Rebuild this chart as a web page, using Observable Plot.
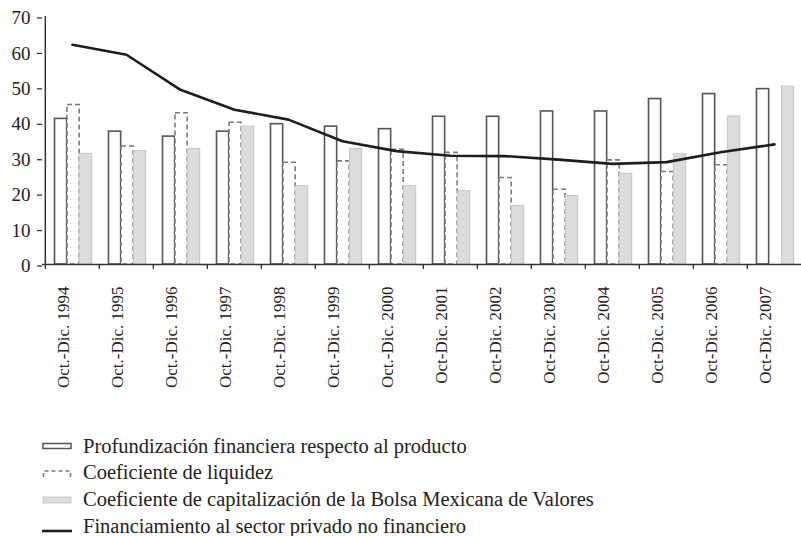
<!DOCTYPE html>
<html><head><meta charset="utf-8">
<script src="https://cdn.jsdelivr.net/npm/d3@7"></script>
<script src="https://cdn.jsdelivr.net/npm/@observablehq/plot@0.6"></script>
<style>
html,body{margin:0;padding:0;background:#fff;}
body{font-family:'Liberation Serif','DejaVu Serif',serif;color:#222;width:801px;height:536px;overflow:hidden;}
#chart svg{display:block;}
#chart svg text{font-family:'Liberation Serif','DejaVu Serif',serif;}
#legend{margin-top:7.6px;font-size:20.5px;}
.row{height:26.7px;line-height:26.7px;display:flex;align-items:center;white-space:nowrap;}
.row svg{margin-left:42px;margin-right:11px;flex:none;}
</style></head><body>
<div id="chart"></div>
<div id="legend"></div>
<script>
const categories = ["Oct.-Dic. 1994","Oct.-Dic. 1995","Oct.-Dic. 1996","Oct.-Dic. 1997","Oct.-Dic. 1998","Oct.-Dic. 1999","Oct.-Dic. 2000","Oct-Dic. 2001","Oct-Dic. 2002","Oct-Dic. 2003","Oct-Dic. 2004","Oct-Dic. 2005","Oct-Dic. 2006","Oct-Dic. 2007"];
const profundizacion = [41.1,37.5,36.1,37.5,39.6,38.9,38.2,41.7,41.7,43.2,43.2,46.7,48.1,49.5];
const liquidez = [45.0,33.3,42.7,40.0,28.7,29.1,32.4,31.5,24.4,21.1,29.4,26.1,28.0,null];
const capitalizacion = [31.2,32.0,32.6,38.9,22.1,32.6,22.1,20.7,16.5,19.3,25.6,31.1,41.8,50.2];
const financiamiento = [62.0,59.2,49.3,43.7,40.9,34.8,32.0,30.7,30.6,29.6,28.4,28.9,31.7,33.9];
const yTicks = [0,10,20,30,40,50,60,70];
const seriesNames = ["Profundización financiera respecto al producto","Coeficiente de liquidez","Coeficiente de capitalización de la Bolsa Mexicana de Valores","Financiamiento al sector privado no financiero"];

const rows = categories.map((c,i)=>({cat:c, prof:profundizacion[i], liq:liquidez[i], cap:capitalizacion[i], fin:financiamiento[i]}));
const W = 801, mL = 42, mR = -2;
const step = (W - mR - mL)/categories.length;
const bw = 12.5, off = 9.5;
const ins = k => ({insetLeft: off + k*bw, insetRight: step - off - (k+1)*bw});

const chart = Plot.plot({
  width: W, height: 425,
  marginLeft: mL, marginRight: mR, marginTop: 16, marginBottom: 161,
  x: {domain: categories, padding: 0, label: null},
  y: {domain: [0,70], label: null},
  style: {fontSize: "19px", color: "#222", background: "white", overflow: "visible"},
  marks: [
    Plot.barY(rows, {x:"cat", y:"prof", fill:"white", stroke:"#555", strokeWidth:1.6, ...ins(0)}),
    Plot.barY(rows.filter(d=>d.liq!=null), {x:"cat", y:"liq", fill:"white", stroke:"#7a7a7a", strokeWidth:1.6, strokeDasharray:"5,3", ...ins(1)}),
    Plot.barY(rows, {x:"cat", y:"cap", fill:"#dcdcdc", stroke:"#cbcbcb", strokeWidth:1.2, ...ins(2)}),
    Plot.line(rows, {x:"cat", y:"fin", stroke:"#1e1e1e", strokeWidth:2.6}),
    Plot.ruleX([categories[0]], {dx: -step/2, stroke:"#333", strokeWidth:1.5}),
    Plot.ruleY([0], {stroke:"#333", strokeWidth:1.5}),
    Plot.ruleX(categories, {x: d=>d, y1: 0, y2: 0, dx: -step/2, insetBottom: -5, stroke:"#333", strokeWidth:1.3}),
    Plot.axisY({ticks: yTicks, tickSize: 5, tickPadding: 7, dy: 1.5, stroke:"#333", strokeWidth:1.3, fontSize: 19}),
    Plot.axisX({tickSize: 0, tickRotate: -90, tickPadding: 22, dx: -8.5, fontSize: 17})
  ]
});
document.getElementById("chart").appendChild(chart);

const sw = [
  '<svg width="30" height="10"><rect x="1" y="2.5" width="28" height="5" fill="white" stroke="#555" stroke-width="1.5"/></svg>',
  '<svg width="30" height="10"><path d="M1.5,9 V3 H28.5 V9" fill="none" stroke="#7a7a7a" stroke-width="1.5" stroke-dasharray="4,3"/></svg>',
  '<svg width="30" height="10"><rect x="1" y="3" width="28" height="6" fill="#dcdcdc" stroke="#cbcbcb" stroke-width="1"/></svg>',
  '<svg width="30" height="14"><line x1="0" x2="30" y1="12" y2="12" stroke="#1e1e1e" stroke-width="2.6"/></svg>'
];
const leg = document.getElementById("legend");
seriesNames.forEach((n,i)=>{
  const r = document.createElement("div");
  r.className = "row";
  r.innerHTML = sw[i] + '<span>' + n + '</span>';
  leg.appendChild(r);
});
</script>
</body></html>
